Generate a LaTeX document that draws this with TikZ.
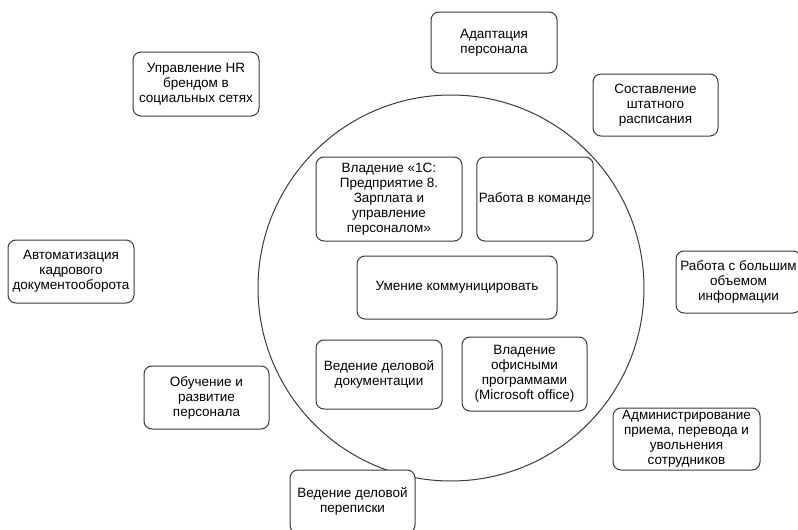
\documentclass[tikz,border=0pt]{standalone}
\usepackage{fontspec}
\setmainfont{Liberation Sans}
\definecolor{edge}{HTML}{3A3A3A}

\begin{document}
\begin{tikzpicture}[x=1pt,y=-1pt,
  box/.style={draw=edge,line width=1pt,fill=white,rounded corners=8pt,align=center,
    inner sep=2pt,font=\fontsize{13.5}{15}\selectfont}]
\useasboundingbox (0,0) rectangle (798,530);
\clip (0,0) rectangle (798,530);
\draw[edge,line width=1pt] (451,288) circle[radius=193pt];
\node[box,minimum width=126pt,minimum height=61pt] (adapt) at (494,42.5) {Адаптация\\персонала};
\node[box,minimum width=125pt,minimum height=62pt] (shtat) at (655.5,105) {Составление\\штатного\\расписания};
\node[box,minimum width=126pt,minimum height=64pt] (hrbrand) at (196,84) {Управление HR\\брендом в\\социальных сетях};
\node[box,minimum width=146pt,minimum height=84pt] (onec) at (389,199) {Владение «1С:\\Предприятие 8.\\Зарплата и\\управление\\персоналом»};
\node[box,minimum width=116pt,minimum height=84pt] (team) at (535,199) {Работа в команде};
\node[box,minimum width=200pt,minimum height=63pt] (comm) at (457,287.5) {Умение коммуницировать};
\node[box,minimum width=126pt,minimum height=63pt] (auto) at (71,271.5) {Автоматизация\\кадрового\\документооборота};
\node[box,minimum width=125pt,minimum height=62pt] (info) at (738.5,282) {Работа с большим\\объемом\\информации};
\node[box,minimum width=126pt,minimum height=69pt] (docs) at (379,374.5) {Ведение деловой\\документации};
\node[box,minimum width=125pt,minimum height=74pt] (office) at (524.5,374) {Владение\\офисными\\программами\\(Microsoft office)};
\node[box,minimum width=125pt,minimum height=63pt] (train) at (206.5,397.5) {Обучение и\\развитие\\персонала};
\node[box,minimum width=147pt,minimum height=62pt] (admin) at (686.5,439) {Администрирование\\приема, перевода и\\увольнения\\сотрудников};
\node[box,minimum width=125pt,minimum height=63pt] (letters) at (352.5,501.5) {Ведение деловой\\переписки};
\end{tikzpicture}
\end{document}
